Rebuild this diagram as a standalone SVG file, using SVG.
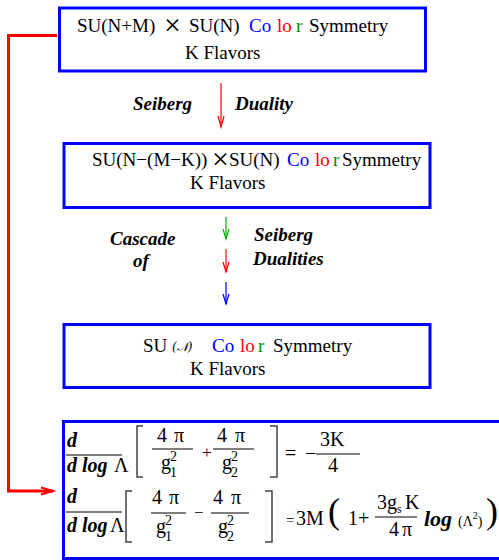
<svg xmlns="http://www.w3.org/2000/svg" width="499" height="560" viewBox="0 0 499 560">
<style>
.t{font-family:"Liberation Serif",serif;font-size:19px;fill:#000}
.e{font-family:"Liberation Serif",serif;font-size:20px;fill:#000}
.x{font-family:"Liberation Serif",serif;font-size:30px;fill:#000}
.bi{font-family:"Liberation Serif",serif;font-size:19px;font-weight:bold;font-style:italic;fill:#000}
.bj{font-family:"Liberation Serif",serif;font-size:20px;font-weight:bold;font-style:italic;fill:#000}
.sm{font-family:"Liberation Serif",serif;font-size:14px;fill:#000}
.box{fill:none;stroke:#0000ff;stroke-width:3}
.fr{stroke:#000;stroke-width:1;fill:none}
.br{stroke:#444;stroke-width:1.5;fill:none}
.ar{fill:none;stroke-width:1.2}
.b{fill:#0000ff}.r{fill:#ff0000}.g{fill:#008c00}
</style>
<rect width="499" height="560" fill="#fff"/>
<g id="connectors">
<polyline points="57,35.5 8.5,35.5 8.5,491 53,491" fill="none" stroke="#ff0000" stroke-width="3"/>
<polyline points="41,487.5 53,491 41,494.5" fill="none" stroke="#ff0000" stroke-width="2"/>
<g class="ar" stroke="#ff0000"><line x1="221" y1="83" x2="221" y2="127"/><polyline points="218,116 221,127 224,116"/></g>
<g class="ar" stroke="#00b000"><line x1="226" y1="217" x2="226" y2="239"/><polyline points="223,229 226,239 229,229"/></g>
<g class="ar" stroke="#ff0000"><line x1="226" y1="249" x2="226" y2="272"/><polyline points="223,262 226,272 229,262"/></g>
<g class="ar" stroke="#0000ff"><line x1="226" y1="282" x2="226" y2="304"/><polyline points="223,294 226,304 229,294"/></g>
</g>
<g id="labels">
<text class="bi" x="133" y="110">Seiberg</text>
<text class="bi" x="235" y="110">Duality</text>
<text class="bi" x="110" y="245">Cascade</text>
<text class="bi" x="133" y="267">of</text>
<text class="bi" x="254" y="241">Seiberg</text>
<text class="bi" x="253" y="265">Dualities</text>
</g>
<g id="node1">
<rect class="box" x="59.5" y="8" width="366" height="63"/>
<text class="t" x="77" y="32">SU(N+M)</text>
<text class="x" x="172.5" y="35" text-anchor="middle">×</text>
<text class="t" x="189" y="32">SU(N)</text>
<text class="t b" x="249" y="32">Co</text>
<text class="t r" x="277" y="32">lo</text>
<text class="t g" x="296" y="32">r</text>
<text class="t" x="309" y="32">Symmetry</text>
<text class="t" x="185" y="59">K Flavors</text>
</g>
<g id="node2">
<rect class="box" x="64" y="143.5" width="366" height="64"/>
<text class="t" x="92" y="166">SU(N−(M−K))</text>
<text class="x" x="220.5" y="169" text-anchor="middle">×</text>
<text class="t" x="229" y="166">SU(N)</text>
<text class="t b" x="287" y="166">Co</text>
<text class="t r" x="315" y="166">lo</text>
<text class="t g" x="333" y="166">r</text>
<text class="t" x="342" y="166">Symmetry</text>
<text class="t" x="190" y="189">K Flavors</text>
</g>
<g id="node3">
<rect class="box" x="64" y="324.5" width="366" height="63"/>
<text class="t" x="143" y="352">SU</text>
<text x="172" y="351" style="font-family:'DejaVu Serif','Noto Sans',serif;font-size:12px;font-style:italic">(𝒩)</text>
<text class="t b" x="212" y="352">Co</text>
<text class="t r" x="240" y="352">lo</text>
<text class="t g" x="258" y="352">r</text>
<text class="t" x="273" y="352">Symmetry</text>
<text class="t" x="190" y="375">K Flavors</text>
</g>
<g id="equations">
<rect class="box" x="63.5" y="421.5" width="450" height="137"/>
<!-- row 1 -->
<text class="bj" x="67" y="447">d</text>
<line class="fr" x1="66" y1="455" x2="122" y2="455"/>
<text class="bj" x="67" y="472">d</text>
<text class="bj" x="82" y="472">log</text>
<text class="e" x="114" y="472">Λ</text>
<polyline class="br" points="143,426 137,426 137,477 143,477"/>
<text class="e" x="157" y="442">4</text><text class="e" x="174" y="442">π</text>
<line class="fr" x1="152" y1="449" x2="193" y2="449"/>
<text class="e" x="161" y="469">g</text><text class="sm" x="170" y="461">2</text><text class="sm" x="170" y="477">1</text>
<text class="e" x="202" y="458" style="font-size:17px">+</text>
<text class="e" x="217" y="442">4</text><text class="e" x="235" y="442">π</text>
<line class="fr" x1="213" y1="449" x2="254" y2="449"/>
<text class="e" x="222" y="469">g</text><text class="sm" x="231" y="461">2</text><text class="sm" x="231" y="477">2</text>
<polyline class="br" points="270,426 277,426 277,477 270,477"/>
<text class="e" x="285" y="460">=</text>
<text class="e" x="305" y="460">−</text>
<line class="fr" x1="316" y1="454" x2="360" y2="454"/>
<text class="e" x="320" y="446">3K</text>
<text class="e" x="328" y="472">4</text>
<!-- row 2 -->
<text class="bj" x="67" y="503">d</text>
<line class="fr" x1="66" y1="512" x2="122" y2="512"/>
<text class="bj" x="67" y="532">d</text>
<text class="bj" x="82" y="532">log</text>
<text class="e" x="110" y="532">Λ</text>
<polyline class="br" points="132,491 126,491 126,542 132,542"/>
<text class="e" x="152" y="504">4</text><text class="e" x="169" y="504">π</text>
<line class="fr" x1="151" y1="513" x2="186" y2="513"/>
<text class="e" x="156" y="533">g</text><text class="sm" x="165" y="525">2</text><text class="sm" x="165" y="541">1</text>
<text class="e" x="194" y="518" style="font-size:17px">−</text>
<text class="e" x="213" y="504">4</text><text class="e" x="231" y="504">π</text>
<line class="fr" x1="211" y1="513" x2="249" y2="513"/>
<text class="e" x="218" y="533">g</text><text class="sm" x="227" y="525">2</text><text class="sm" x="227" y="541">2</text>
<polyline class="br" points="265,491 272,491 272,542 265,542"/>
<text class="e" x="286" y="525" style="font-size:15px">=</text>
<text class="e" x="296" y="525">3M</text>
<text class="e" x="328" y="523" style="font-size:36px">(</text>
<text class="e" x="348" y="525">1+</text>
<text class="e" x="377" y="509">3</text>
<text class="e" x="387" y="509">g</text><text class="sm" x="397" y="513" style="font-size:12px">s</text>
<text class="e" x="405" y="509">K</text>
<line class="fr" x1="375" y1="517" x2="417" y2="517"/>
<text class="e" x="389" y="536">4</text><text class="e" x="402" y="536">π</text>
<text class="bj" x="424" y="526" style="font-size:22px">log</text>
<text class="e" x="458" y="526" style="font-size:14px">(Λ<tspan dy="-7" style="font-size:10px">2</tspan><tspan dy="7">)</tspan></text>
<text class="e" x="486" y="523" style="font-size:36px">)</text>
</g>
</svg>
